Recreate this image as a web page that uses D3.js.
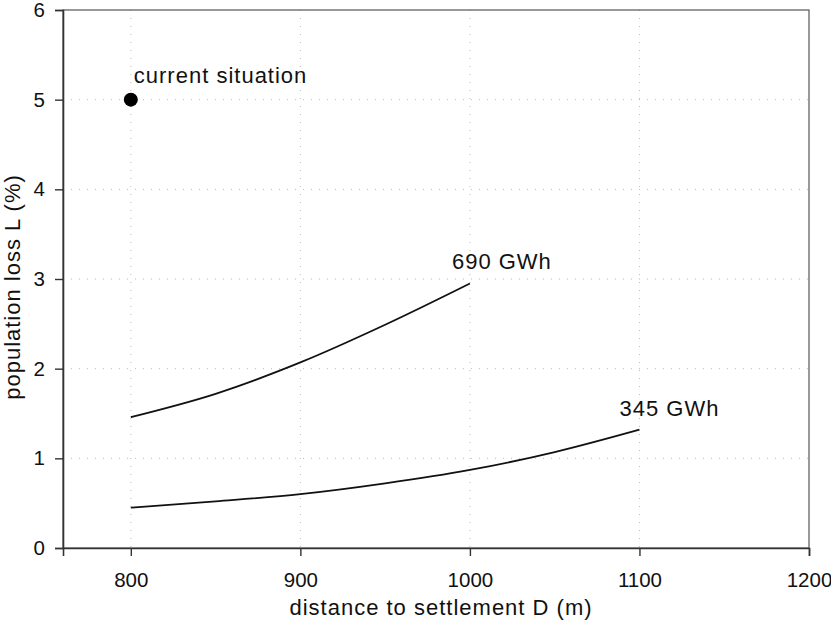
<!DOCTYPE html>
<html>
<head>
<meta charset="utf-8">
<script src="https://cdn.jsdelivr.net/npm/d3@7"></script>
<style>
  body { margin: 0; background: #fff; }
  text { font-family: "Liberation Sans", Arial, sans-serif; fill: #111; }
  .label { font-size: 22px; letter-spacing: 1px; }
</style>
</head>
<body>
<svg id="chart"></svg>
<script>
var distances690 = [800, 850, 900, 950, 1000]
var loss690 = [1.46, 1.72, 2.07, 2.49, 2.95]
var distances345 = [800, 850, 900, 950, 1000, 1050, 1100]
var loss345 = [0.45, 0.52, 0.60, 0.72, 0.87, 1.07, 1.32]
var currentPoint = [800, 5]
var xTicks = [800, 900, 1000, 1100, 1200]
var yTicks = [0, 1, 2, 3, 4, 5, 6]

var dimensions = {
    width: 831,
    height: 621,
    margin: { top: 10, bottom: 73, right: 22, left: 63 }
}
dimensions.boundedWidth = dimensions.width - dimensions.margin.left - dimensions.margin.right
dimensions.boundedHeight = dimensions.height - dimensions.margin.top - dimensions.margin.bottom

var svg = d3.select("#chart")
    .attr("width", dimensions.width)
    .attr("height", dimensions.height)

var g = svg.append("g")
    .attr("transform", "translate(" + dimensions.margin.left + "," + dimensions.margin.top + ")")

var xScale = d3.scaleLinear().domain([760, 1200]).range([0, dimensions.boundedWidth])
var yScale = d3.scaleLinear().domain([0, 6]).range([dimensions.boundedHeight, 0])

// dotted grid
g.append("g").selectAll("line")
    .data(xTicks.slice(0, -1))
    .enter().append("line")
    .attr("x1", d => xScale(d)).attr("x2", d => xScale(d))
    .attr("y1", 0).attr("y2", dimensions.boundedHeight)
    .attr("stroke", "#bbb").attr("stroke-dasharray", "1,7")
g.append("g").selectAll("line")
    .data(yTicks.slice(1, -1))
    .enter().append("line")
    .attr("y1", d => yScale(d)).attr("y2", d => yScale(d))
    .attr("x1", 0).attr("x2", dimensions.boundedWidth)
    .attr("stroke", "#bbb").attr("stroke-dasharray", "1,7")

// frame
g.append("rect")
    .attr("width", dimensions.boundedWidth)
    .attr("height", dimensions.boundedHeight)
    .attr("fill", "none")
    .attr("stroke", "#555")
    .attr("stroke-width", 1.2)

// axes
var xAxis = g.append("g")
    .attr("transform", "translate(0," + dimensions.boundedHeight + ")")
    .call(d3.axisBottom(xScale).tickValues(xTicks).tickSize(8).tickPadding(16).tickFormat(d3.format("d")))
var yAxis = g.append("g")
    .call(d3.axisLeft(yScale).tickValues(yTicks).tickSize(8).tickPadding(10).tickFormat(d3.format("d")))

;[xAxis, yAxis].forEach(function (a) {
    a.select(".domain").attr("stroke", "#333").attr("stroke-width", 1.6)
    a.selectAll(".tick line").attr("stroke", "#333").attr("stroke-width", 1.4)
    a.selectAll(".tick text").style("font-size", "20.5px").attr("fill", "#111")
})

// axis labels
g.append("text")
    .attr("class", "label")
    .attr("transform", "translate(" + (dimensions.boundedWidth / 2 + 5) + "," + (dimensions.boundedHeight + 67) + ")")
    .style("text-anchor", "middle")
    .text("distance to settlement D (m)")

g.append("text")
    .attr("class", "label")
    .attr("transform", "rotate(-90)")
    .attr("x", -(dimensions.boundedHeight / 2) - 8)
    .attr("y", -43)
    .style("text-anchor", "middle")
    .text("population loss L (%)")

// curves
var line = d3.line()
    .x(d => xScale(d[0]))
    .y(d => yScale(d[1]))
    .curve(d3.curveMonotoneX)

g.append("path")
    .datum(d3.zip(distances690, loss690))
    .attr("fill", "none")
    .attr("stroke", "#111")
    .attr("stroke-width", 1.8)
    .attr("d", line)

g.append("path")
    .datum(d3.zip(distances345, loss345))
    .attr("fill", "none")
    .attr("stroke", "#111")
    .attr("stroke-width", 1.8)
    .attr("d", line)

// current situation point
g.append("circle")
    .attr("cx", xScale(currentPoint[0]))
    .attr("cy", yScale(currentPoint[1]))
    .attr("r", 7)
    .attr("fill", "#000")

// annotations
g.append("text")
    .attr("class", "label")
    .attr("x", xScale(currentPoint[0]) + 3)
    .attr("y", yScale(currentPoint[1]) - 17)
    .text("current situation")

g.append("text")
    .attr("class", "label")
    .attr("x", xScale(distances690[distances690.length - 1]) - 18)
    .attr("y", yScale(loss690[loss690.length - 1]) - 14)
    .text("690 GWh")

g.append("text")
    .attr("class", "label")
    .attr("x", xScale(distances345[distances345.length - 1]) - 20)
    .attr("y", yScale(loss345[loss345.length - 1]) - 14)
    .text("345 GWh")
</script>
</body>
</html>
